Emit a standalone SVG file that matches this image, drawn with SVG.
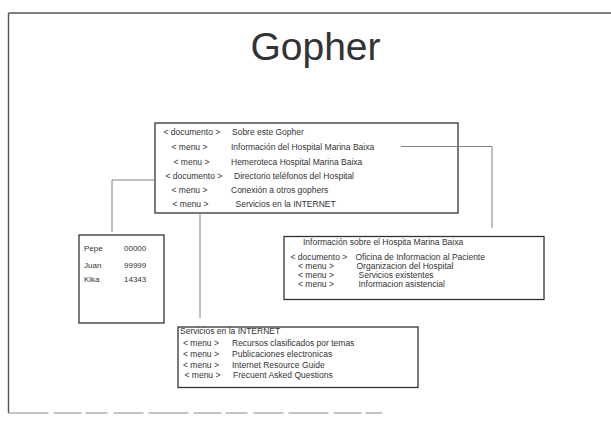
<svg xmlns="http://www.w3.org/2000/svg" width="611" height="423" viewBox="0 0 611 423">
<style>
text{font-family:"Liberation Sans",Arial,sans-serif;fill:#333}
.t{font-size:8.5px}
.s{font-size:8px}
.box{fill:#fff;stroke:#333;stroke-width:1.3}
.con{fill:none;stroke:#808080;stroke-width:1}
.frame{fill:none;stroke:#555;stroke-width:1.4}
</style>
<rect width="611" height="423" fill="#fff"/>
<g id="frame">
<path class="frame" d="M8.5,13 L611,13 M8.5,13 L8.5,413"/>
<path d="M8.5,413 L382,413" fill="none" stroke="#8a8a8a" stroke-width="1.2" stroke-dasharray="40,5,28,4,22,6,30,5"/>
</g>
<g id="title"><text x="315.5" y="60" font-size="39" text-anchor="middle" fill="#2a2a2a">Gopher</text></g>
<g id="main">
<rect class="box" x="155" y="123" width="303" height="90"/>
<text class="t" x="163.5" y="134.5">&lt; documento &gt;</text><text class="t" x="232" y="134.5">Sobre este Gopher</text>
<text class="t" x="171.5" y="149.5">&lt; menu &gt;</text><text class="t" x="231" y="149.5">Información del Hospital Marina Baixa</text>
<text class="t" x="173.5" y="165">&lt; menu &gt;</text><text class="t" x="231" y="165">Hemeroteca Hospital Marina Baixa</text>
<text class="t" x="165.5" y="179">&lt; documento &gt;</text><text class="t" x="234" y="179">Directorio teléfonos del Hospital</text>
<text class="t" x="171.5" y="193">&lt; menu &gt;</text><text class="t" x="231" y="193">Conexión a otros gophers</text>
<text class="t" x="172.5" y="206.5">&lt; menu &gt;</text><text class="t" x="235.5" y="206.5">Servicios en la INTERNET</text>
</g>
<g id="phones">
<rect class="box" x="79" y="235" width="85" height="88"/>
<text class="s" x="84" y="251">Pepe</text><text class="s" x="124" y="251">00000</text>
<text class="s" x="84" y="268">Juan</text><text class="s" x="124" y="268">99999</text>
<text class="s" x="84" y="282">Kika</text><text class="s" x="124" y="282">14343</text>
</g>
<g id="info">
<rect class="box" x="284" y="236.5" width="260" height="63"/>
<text class="t" x="303" y="244.5">Información sobre el Hospita Marina Baixa</text>
<text class="t" x="290.5" y="259.5">&lt; documento &gt;</text><text class="t" x="355.5" y="259.5">Oficina de Informacion al Paciente</text>
<text class="t" x="298" y="269">&lt; menu &gt;</text><text class="t" x="356.5" y="269">Organizacion del Hospital</text>
<text class="t" x="298" y="278">&lt; menu &gt;</text><text class="t" x="358.5" y="278">Servicios existentes</text>
<text class="t" x="298" y="287">&lt; menu &gt;</text><text class="t" x="358.5" y="287">Informacion asistencial</text>
</g>
<g id="services">
<rect class="box" x="178" y="327" width="240" height="60.5"/>
<text class="t" x="180" y="334">Servicios en la INTERNET</text>
<text class="t" x="183" y="346">&lt; menu &gt;</text><text class="t" x="232" y="346">Recursos clasificados por temas</text>
<text class="t" x="183" y="357">&lt; menu &gt;</text><text class="t" x="232" y="357">Publicaciones electronicas</text>
<text class="t" x="183" y="367.5">&lt; menu &gt;</text><text class="t" x="232" y="367.5">Internet Resource Guide</text>
<text class="t" x="184.5" y="378">&lt; menu &gt;</text><text class="t" x="233" y="378">Frecuent Asked Questions</text>
</g>
<g id="connectors">
<path class="con" d="M401,146.5 H492 V228"/>
<path class="con" d="M155,180 H112 V232"/>
<path class="con" d="M200,213 V318"/>
</g>
</svg>
